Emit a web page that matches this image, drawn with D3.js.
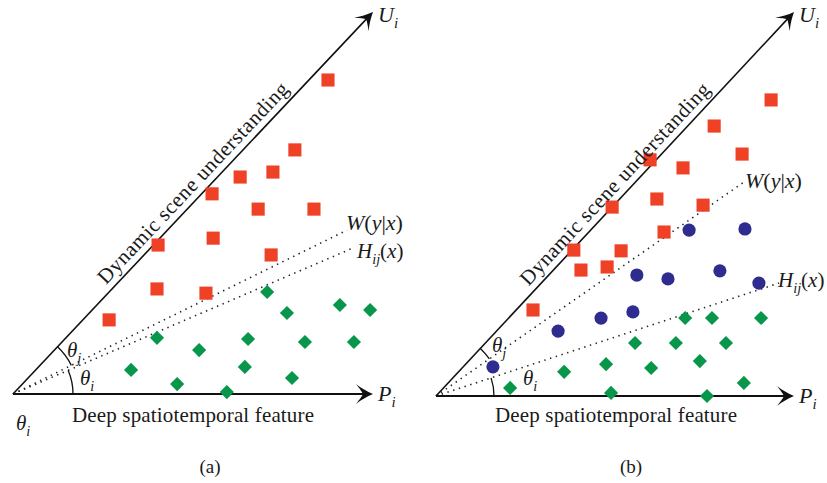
<!DOCTYPE html>
<html>
<head>
<meta charset="utf-8">
<script src="https://cdn.jsdelivr.net/npm/d3@7"></script>
<style>
body { margin: 0; background: #fff; }
svg { display: block; }
text { font-family: "Liberation Serif", "DejaVu Serif", serif; fill: #1a1a1a; }
</style>
</head>
<body>
<svg id="chart" width="827" height="483"></svg>
<script>
// values in axis units: 0..100 along P_i (x) and 0..100 up to U_i (y)
var squaresA = [[87.5,82.2],[78.3,63.9],[63.1,56.8],[72.2,58.1],[55.3,52.4],[68.1,48.4],[83.6,48.4],
    [55.6,40.8],[40.3,39.0],[71.7,36.4],[40.0,27.5],[53.6,26.4],[26.7,19.4]];
var diamondsA = [[70.6,26.7],[76.1,21.2],[90.8,23.3],[99.2,22.0],[40.0,14.7],[51.7,11.5],[65.3,14.4],
    [81.1,13.6],[94.7,13.6],[32.8,6.3],[64.4,7.1],[77.5,4.2],[45.6,2.6],[59.4,0.5]];
var squaresB = [[93.6,77.1],[77.7,70.3],[85.5,63.0],[59.8,61.5],[69.0,59.4],[49.2,49.2],[61.7,51.3],
    [74.6,49.7],[63.7,42.7],[38.5,38.0],[51.7,37.8],[40.5,32.8],[47.8,33.6],[27.1,22.4]];
var circlesB = [[70.7,43.2],[86.3,43.5],[56.1,31.5],[64.8,30.5],[79.3,32.6],[90.2,29.4],[46.1,20.3],
    [55.0,21.9],[34.1,16.9],[15.9,7.6]];
var diamondsB = [[69.6,20.3],[77.1,20.3],[90.8,20.3],[55.6,13.8],[67.0,13.8],[81.0,13.8],[47.5,8.3],
    [73.7,9.1],[35.8,6.3],[60.1,7.3],[86.0,3.4],[20.7,2.1],[48.9,0.8],[75.7,0]];
// end points of the dotted W(y|x) and H_ij(x) lines
var wEnd = {a: [92.8,42.9], b: [86.0,55.7]};
var hEnd = {a: [94.4,38.2], b: [95.8,29.4]};
var captions = ['(a)', '(b)'];
var xTitle = 'Deep spatiotemporal feature',
    yTitle = 'Dynamic scene understanding';

var red = '#ee4125', green = '#07964a', blue = '#2f2c8f';

var svg = d3.select('#chart');

var panels = [
    {key:'a', box:[13,394,373,12], sq:squaresA, dia:diamondsA, dots:[], cap:captions[0], capX:210,
        thj:[54,-37], thi:[67,-9], rj:65, ri:60, wLab:[346,230], hLab:[357,258]},
    {key:'b', box:[436,396,794,12], sq:squaresB, dia:diamondsB, dots:circlesB, cap:captions[1], capX:631,
        thj:[56,-44], thi:[87,-11], rj:65, ri:58, wLab:[745,188], hLab:[778,287]}
];

// italic label with optional subscripts: parts = [[text, italic, sub]]
var label = function(g, x, y, parts, size) {
    var t = g.append('text').attr('x', x).attr('y', y).style('font-size', size + 'px');
    var shifted = false;
    parts.forEach(function(p) {
        var s = t.append('tspan').text(p[0]).style('font-style', p[1] ? 'italic' : 'normal');
        if (p[2]) {
            s.style('font-size', (size * 0.68) + 'px').attr('dy', shifted ? 0 : size * 0.28);
            shifted = true;
        } else if (shifted) {
            s.attr('dy', -size * 0.28);
            shifted = false;
        }
    });
    return t;
};

var arrowHead = 'M0,0 C-6,-2.5 -12,-6 -17,-10 C-13,-5 -11,-2 -10,0 C-11,2 -13,5 -17,10 C-12,6 -6,2.5 0,0 Z';

panels.forEach(function(p) {
    var x = d3.scaleLinear().domain([0, 100]).range([p.box[0], p.box[2]]),
        y = d3.scaleLinear().domain([0, 100]).range([p.box[1], p.box[3]]);
    var g = svg.append('g').attr('class', 'panel-' + p.key);
    var ox = x(0), oy = y(0);
    var ang = function(pt) { return Math.atan2(y(pt[1]) - oy, x(pt[0]) - ox); };

    // dotted lines
    [wEnd[p.key], hEnd[p.key]].forEach(function(e) {
        g.append('line').attr('x1', ox).attr('y1', oy).attr('x2', x(e[0])).attr('y2', y(e[1]))
            .attr('stroke', '#222').attr('stroke-width', 1.6)
            .attr('stroke-dasharray', '1.4,4.6');
    });

    // angle arcs
    var arcPath = function(r, a0, a1) {
        var pth = d3.path();
        pth.moveTo(ox + r * Math.cos(a0), oy + r * Math.sin(a0));
        pth.arc(ox, oy, r, a0, a1, true);
        return pth.toString();
    };
    g.append('path').attr('d', arcPath(p.rj, ang(wEnd[p.key]), ang([100, 100])))
        .attr('fill', 'none').attr('stroke', '#111').attr('stroke-width', 1.3);
    g.append('path').attr('d', arcPath(p.ri, 0, ang(hEnd[p.key])))
        .attr('fill', 'none').attr('stroke', '#111').attr('stroke-width', 1.3);

    // axes
    g.append('line').attr('x1', ox).attr('y1', oy).attr('x2', x(100) - 6).attr('y2', oy)
        .attr('stroke', '#111').attr('stroke-width', 1.8);
    var ua = ang([100, 100]);
    g.append('line').attr('x1', ox).attr('y1', oy)
        .attr('x2', x(100) - 6 * Math.cos(ua)).attr('y2', y(100) - 6 * Math.sin(ua))
        .attr('stroke', '#111').attr('stroke-width', 1.6);
    g.append('path').attr('d', arrowHead).attr('fill', '#111')
        .attr('transform', 'translate(' + x(100) + ',' + oy + ')');
    g.append('path').attr('d', arrowHead).attr('fill', '#111')
        .attr('transform', 'translate(' + x(100) + ',' + y(100) + ') rotate(' + (ua * 180 / Math.PI) + ')');

    // marks
    g.selectAll('.sq').data(p.sq).enter().append('path').attr('class', 'sq')
        .attr('d', d3.symbol(d3.symbolSquare, 172))
        .attr('transform', function(d) { return 'translate(' + x(d[0]) + ',' + y(d[1]) + ')'; })
        .attr('fill', red);
    g.selectAll('.dia').data(p.dia).enter().append('path').attr('class', 'dia')
        .attr('d', d3.symbol(d3.symbolSquare, 100))
        .attr('transform', function(d) { return 'translate(' + x(d[0]) + ',' + y(d[1]) + ') rotate(45)'; })
        .attr('fill', green);
    g.selectAll('.dot').data(p.dots).enter().append('circle').attr('class', 'dot')
        .attr('cx', function(d) { return x(d[0]); })
        .attr('cy', function(d) { return y(d[1]); })
        .attr('r', 6.6).attr('fill', blue);

    // axis titles
    g.append('text').attr('x', ox + 59).attr('y', 422)
        .attr('textLength', 242).attr('lengthAdjust', 'spacing')
        .style('font-size', '21px').text(xTitle);
    var along = 277, dx = Math.cos(ua), dy = Math.sin(ua);
    g.append('text')
        .attr('transform', 'translate(' + (ox + along * dx) + ',' + (oy + along * dy) + ') rotate(' + (ua * 180 / Math.PI) + ')')
        .attr('x', -134).attr('y', -7).attr('textLength', 268).attr('lengthAdjust', 'spacing')
        .style('font-size', '21px').text(yTitle);

    // labels
    label(g, x(100) + 5, 22, [['U', true], ['i', true, true]], 22);
    label(g, x(100) + 5, oy + 7, [['P', true], ['i', true, true]], 22);
    label(g, p.wLab[0], p.wLab[1], [['W', true], ['(', false], ['y', true], ['|', false], ['x', true], [')', false]], 22);
    label(g, p.hLab[0], p.hLab[1], [['H', true], ['ij', true, true], ['(', false], ['x', true], [')', false]], 21);
    label(g, ox + p.thj[0], oy + p.thj[1], [['\u03b8', true], ['j', true, true]], 21);
    label(g, ox + p.thi[0], oy + p.thi[1], [['\u03b8', true], ['i', true, true]], 21);
    if (p.key === 'a') {
        label(g, 16, 430, [['\u03b8', true], ['i', true, true]], 21);
    }
    g.append('text').attr('x', p.capX).attr('y', 473).attr('text-anchor', 'middle')
        .style('font-size', '19px').text(p.cap);
});
</script>
</body>
</html>
